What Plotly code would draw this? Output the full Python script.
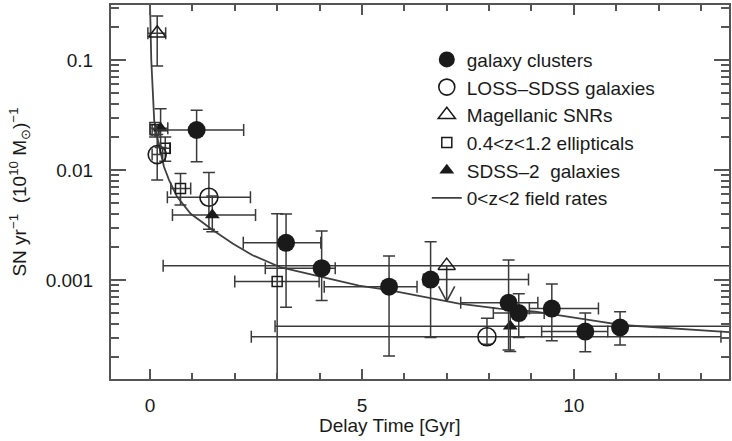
import plotly.graph_objects as go

# ---------------- data ----------------
clusters_x = [1.10, 3.21, 4.05, 5.64, 6.62, 8.46, 8.70, 9.48, 10.27, 11.09]
clusters_y = [0.0231, 0.00218, 0.00128, 0.00087, 0.00101, 0.00062, 0.00050, 0.00055, 0.00034, 0.00037]
clusters_x_lo = [0.15, 2.20, 2.72, 4.11, 6.45, 7.33, 8.10, 8.95, 9.24, 11.09]
clusters_x_hi = [2.21, 4.03, 4.37, 6.30, 8.93, 9.15, 9.30, 10.58, 10.80, 11.09]
clusters_y_lo = [0.0119, 0.000565, 0.00065, 0.000204, 0.00030, 0.000231, 0.00030, 0.00028, 0.000223, 0.000257]
clusters_y_hi = [0.035, 0.00398, 0.00279, 0.00165, 0.00223, 0.00152, 0.00075, 0.00092, 0.00050, 0.000515]

loss_x = [0.17, 1.39, 7.95]
loss_y = [0.0138, 0.00565, 0.000305]
loss_x_lo = [0.05, 0.41, 2.39]
loss_x_hi = [0.30, 2.37, 13.47]
loss_y_lo = [0.0081, 0.0029, 0.00026]
loss_y_hi = [0.021, 0.0095, 0.00045]

mag_x = [0.17, 7.0]
mag_y = [0.175, 0.00135]
mag_x_lo = [-0.05, 0.31]
mag_x_hi = [0.37, 14.5]
mag_y_lo = [0.088, 0.00135]
mag_y_hi = [0.251, 0.00135]
mag_limit_y = 0.00064          # tip of the limit arrow under the wide-bin point

ell_x = [0.12, 0.36, 0.72, 3.0]
ell_y = [0.0232, 0.0158, 0.0068, 0.00097]
ell_x_lo = [0.05, 0.25, 0.49, 2.0]
ell_x_hi = [0.20, 0.47, 0.96, 3.99]
ell_y_lo = [0.020, 0.012, 0.0048, 0.00001]
ell_y_hi = [0.027, 0.020, 0.0093, 0.0040]

sdss_x = [0.25, 1.47, 8.50]
sdss_y = [0.024, 0.0039, 0.00038]
sdss_x_lo = [0.0, 0.53, 2.95]
sdss_x_hi = [0.42, 2.49, 14.5]
sdss_y_lo = [0.016, 0.00275, 0.000224]
sdss_y_hi = [0.036, 0.0058, 0.00055]

field_x = [0.00, 0.03, 0.10, 0.20, 0.33, 0.45, 0.64, 0.96, 1.17, 1.48, 1.95, 2.42,
           3.09, 4.00, 4.93, 5.64, 7.29, 8.23, 9.09, 10.58, 11.13, 13.48, 14.0]
field_y = [0.33, 0.10, 0.028, 0.0175, 0.0107, 0.0081, 0.0057, 0.0040, 0.0035, 0.00285,
           0.00215, 0.00168, 0.0013, 0.00107, 0.00089, 0.00081, 0.00061, 0.00055,
           0.000515, 0.00042, 0.00039, 0.00034, 0.00033]

y_tick_vals = [0.001, 0.01, 0.1]
y_tick_text = ["0.001", "0.01", "0.1"]
x_tick_vals = [0, 5, 10]
x_tick_text = ["0", "5", "10"]

# ---------------- styling ----------------
FONT = "Liberation Sans, Arial, Helvetica, sans-serif"
INK = "#1a1a1a"
BAR = "#3a3a3a"
AX = "#555555"
ARROW_HALF_W = 0.19      # Gyr, half width of the arrow head
ARROW_RISE = 1.37        # multiplicative height of the arrow head on the log axis


def err(vals, lo, hi):
    return dict(type="data", symmetric=False,
                array=[h - v for v, h in zip(vals, hi)],
                arrayminus=[v - l for v, l in zip(vals, lo)],
                color=BAR, thickness=1.5, width=6)


fig = go.Figure()

fig.add_trace(go.Scatter(
    x=field_x, y=field_y, mode="lines", name="0<z<2 field rates",
    line=dict(color="#404040", width=1.8), legendrank=6))

# limit arrow (stem + open head) below the wide-bin Magellanic point
ax0 = mag_x[1]
fig.add_trace(go.Scatter(
    x=[ax0, ax0, None, ax0 - ARROW_HALF_W, ax0, ax0 + ARROW_HALF_W],
    y=[mag_y[1], mag_limit_y, None, mag_limit_y * ARROW_RISE, mag_limit_y,
       mag_limit_y * ARROW_RISE],
    mode="lines", line=dict(color=BAR, width=1.6), showlegend=False, hoverinfo="skip"))

fig.add_trace(go.Scatter(
    x=ell_x, y=ell_y, mode="markers", name="0.4<z<1.2 ellipticals",
    marker=dict(symbol="square-open", size=10, color=INK, line=dict(width=1.5)),
    error_x=err(ell_x, ell_x_lo, ell_x_hi), error_y=err(ell_y, ell_y_lo, ell_y_hi),
    legendrank=4))

fig.add_trace(go.Scatter(
    x=loss_x, y=loss_y, mode="markers", name="LOSS–SDSS galaxies",
    marker=dict(symbol="circle-open", size=18, color=INK, line=dict(width=1.6)),
    error_x=err(loss_x, loss_x_lo, loss_x_hi), error_y=err(loss_y, loss_y_lo, loss_y_hi),
    legendrank=2))

fig.add_trace(go.Scatter(
    x=mag_x, y=mag_y, mode="markers", name="Magellanic SNRs",
    marker=dict(symbol="triangle-up-open", size=15, color=INK, line=dict(width=1.5)),
    error_x=err(mag_x, mag_x_lo, mag_x_hi), error_y=err(mag_y, mag_y_lo, mag_y_hi),
    legendrank=3))

fig.add_trace(go.Scatter(
    x=sdss_x, y=sdss_y, mode="markers", name="SDSS–2  galaxies",
    marker=dict(symbol="triangle-up", size=13, color=INK),
    error_x=err(sdss_x, sdss_x_lo, sdss_x_hi), error_y=err(sdss_y, sdss_y_lo, sdss_y_hi),
    legendrank=5))

fig.add_trace(go.Scatter(
    x=clusters_x, y=clusters_y, mode="markers", name="galaxy clusters",
    marker=dict(symbol="circle", size=18, color=INK),
    error_x=err(clusters_x, clusters_x_lo, clusters_x_hi),
    error_y=err(clusters_y, clusters_y_lo, clusters_y_hi),
    legendrank=1))

# x axis title (placed as in the reference)
fig.add_annotation(
    x=(390 - 111) / 620, y=-(425 - 379) / 374, xref="paper", yref="paper",
    xanchor="center", yanchor="middle", text="Delay Time [Gyr]",
    showarrow=False, font=dict(size=19, color=INK, family=FONT))

fig.update_layout(
    width=732, height=441,
    margin=dict(l=111, r=1, t=5, b=62),
    paper_bgcolor="white", plot_bgcolor="white",
    font=dict(family=FONT, size=19, color=INK),
    showlegend=True,
    legend=dict(x=0.511, y=0.905, xanchor="left", yanchor="top",
                bgcolor="rgba(0,0,0,0)", font=dict(size=19, color=INK, family=FONT),
                borderwidth=0),
    xaxis=dict(range=[-0.92, 13.66], tickmode="array", tickvals=x_tick_vals,
               ticktext=x_tick_text, ticks="inside", ticklen=10, tickwidth=1.5,
               tickcolor=AX, showline=True, linecolor=AX, linewidth=2, mirror="ticks",
               showgrid=False, zeroline=False, ticklabelstandoff=8,
               minor=dict(ticks="inside", dtick=1, tick0=0, ticklen=6, tickwidth=1.5,
                          tickcolor=AX, showgrid=False)),
    yaxis=dict(type="log", range=[-3.9, -0.5], tickmode="array", tickvals=y_tick_vals,
               ticktext=y_tick_text, ticks="inside", ticklen=15, tickwidth=1.5,
               tickcolor=AX, showline=True, linecolor=AX, linewidth=2, mirror="ticks",
               showgrid=False, zeroline=False, ticklabelstandoff=12,
               title=dict(text="SN yr<sup>−1</sup>  (10<sup>10</sup> M<sub>⊙</sub>)<sup>−1</sup>",
                          font=dict(size=19, color=INK, family=FONT), standoff=14),
               minor=dict(ticks="inside", dtick="D1", ticklen=8, tickwidth=1.5,
                          tickcolor=AX, showgrid=False)),
)

fig.write_html("out.html")
